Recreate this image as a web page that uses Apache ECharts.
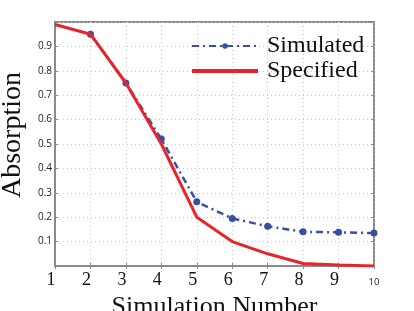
<!DOCTYPE html>
<html><head><meta charset="utf-8">
<script src="https://cdn.jsdelivr.net/npm/echarts@6/dist/echarts.min.js"></script>
<style>html,body{margin:0;padding:0;background:#fff}#c{width:414px;height:311px}</style>
</head><body><div id="c"></div>
<script>
var simX = [2, 3, 4, 5, 6, 7, 8, 9, 10];
var simY = [0.95, 0.75, 0.52, 0.263, 0.195, 0.163, 0.14, 0.138, 0.135];
var specX = [1, 2, 3, 4, 5, 6, 7, 8, 9, 10];
var specY = [0.99, 0.95, 0.75, 0.5, 0.2, 0.1, 0.05, 0.01, 0.004, 0.0];
var xTicks = [1, 2, 3, 4, 5, 6, 7, 8, 9, 10];
var yTicks = [0.1, 0.2, 0.3, 0.4, 0.5, 0.6, 0.7, 0.8, 0.9];

function pairs(xs, ys) { return xs.map(function (x, i) { return [x, ys[i]]; }); }

var chart = echarts.init(document.getElementById('c'));
var serif = 'Liberation Serif';
var axisGray = '#8a8a8a';
chart.setOption({
  animation: false,
  grid: { left: 55, right: 40, top: 22, bottom: 45, containLabel: false, outerBoundsMode: 'none',
    show: true, borderColor: axisGray, borderWidth: 2, backgroundColor: 'transparent' },
  legend: {
    orient: 'vertical', left: 185, top: 29, itemGap: 1,
    itemWidth: 66, itemHeight: 7,
    textStyle: { fontFamily: serif, fontSize: 24, color: '#111', padding: [0, 0, 0, 4] },
    data: [{ name: 'Simulated' }, { name: 'Specified', itemStyle: { opacity: 0 }, lineStyle: { width: 4 } }]
  },
  xAxis: [{
    type: 'value', min: 1, max: 10, interval: 1,
    name: 'Simulation Number', nameLocation: 'middle', nameGap: 28,
    nameTextStyle: { fontFamily: serif, fontSize: 26, color: '#111' },
    axisLine: { show: true, lineStyle: { color: axisGray, width: 2 } },
    axisTick: { show: true, inside: true, length: 3, lineStyle: { color: axisGray } },
    splitLine: { show: true, lineStyle: { color: '#c8c8c8', type: [1, 3], width: 1 } },
    axisLabel: {
      margin: 5,
      formatter: function (v) {
        if (xTicks.indexOf(v) < 0) return '';
        return v === 10 ? '{s|' + v + '}' : '{b|' + v + '}';
      },
      rich: {
        b: { fontFamily: serif, fontSize: 18, color: '#111', padding: [0, 8, 0, 0] },
        s: { fontFamily: 'Open Sans', fontSize: 9.5, color: '#222', padding: [6, 0, 0, 0] }
      }
    }
  }, {
    type: 'value', min: 1, max: 10, interval: 1, position: 'top',
    axisLine: { show: false },
    axisTick: { show: true, inside: true, length: 3, lineStyle: { color: axisGray } },
    axisLabel: { show: false }, splitLine: { show: false }
  }],
  yAxis: [{
    type: 'value', min: 0, max: 1, interval: 0.1,
    name: 'Absorption', nameLocation: 'middle', nameGap: 18,
    nameTextStyle: { fontFamily: serif, fontSize: 28, color: '#111', padding: [0, 0, 0, 18] },
    axisLine: { show: true, lineStyle: { color: axisGray, width: 2 } },
    axisTick: { show: true, inside: true, length: 3, lineStyle: { color: axisGray } },
    splitLine: { show: true, lineStyle: { color: '#c8c8c8', type: [1, 3], width: 1 } },
    axisLabel: {
      margin: 3, fontFamily: 'Open Sans', fontSize: 10, color: '#222',
      formatter: function (v) {
        var r = Math.round(v * 10) / 10;
        return yTicks.indexOf(r) >= 0 ? r.toFixed(1) : '';
      }
    }
  }, {
    type: 'value', min: 0, max: 1, interval: 0.1, position: 'right',
    axisLine: { show: false },
    axisTick: { show: true, inside: true, length: 3, lineStyle: { color: axisGray } },
    axisLabel: { show: false }, splitLine: { show: false }
  }],
  series: [{
    name: 'Simulated', type: 'line', data: pairs(simX, simY),
    symbol: 'circle', symbolSize: 7, z: 2,
    itemStyle: { color: '#3a4fa3' },
    lineStyle: { color: '#3a4fa3', width: 2.5, type: [7, 4, 2, 4] }
  }, {
    name: 'Specified', type: 'line', data: pairs(specX, specY),
    symbol: 'none', z: 3,
    itemStyle: { color: '#e8242b' },
    lineStyle: { color: '#e8242b', width: 3 }
  }]
});
</script></body></html>
